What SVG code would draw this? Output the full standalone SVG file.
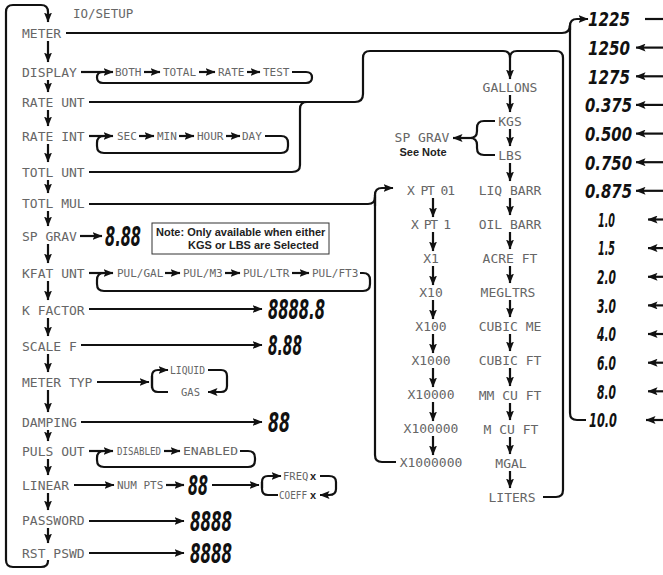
<svg xmlns="http://www.w3.org/2000/svg" width="663" height="575" viewBox="0 0 663 575">
<defs>
<marker id="ah" viewBox="0 0 10 8" refX="9.5" refY="4" markerWidth="10" markerHeight="8" markerUnits="userSpaceOnUse" orient="auto"><path d="M0,0 L10,4 L0,8 L2,4 z" fill="#111"/></marker>
</defs>
<style>
.ln{fill:none;stroke:#111;stroke-width:2.2;stroke-linejoin:round;stroke-linecap:butt}
.ar{marker-end:url(#ah)}
.lcd{font-family:"DejaVu Sans Mono","Liberation Mono",monospace;font-size:13px;fill:#666}
.sm{font-size:11px}
.xs{font-size:10.5px}
.big{font-family:"DejaVu Sans Condensed","DejaVu Sans",sans-serif;font-weight:bold;font-style:italic;font-size:27px;fill:#111}
.num{font-family:"DejaVu Sans Condensed","DejaVu Sans",sans-serif;font-weight:bold;font-style:italic;font-size:20px;fill:#111}
.note{font-family:"Liberation Sans",Arial,sans-serif;font-weight:bold;font-size:11px;fill:#222}
.bx{fill:#fff;stroke:#333;stroke-width:1}
.mid{text-anchor:middle}
</style>
<rect width="663" height="575" fill="#fff"/>

<g id="connectors">
<path class="ln ar" d="M48,560 V561 Q48,567 41,567 H13 Q6,567 6,560 V12 Q6,5 13,5 H41 Q48,5 48,12 V22"/>
<path class="ln ar" d="M48,41 V62"/>
<path class="ln ar" d="M48,80 V92"/>
<path class="ln ar" d="M48,110 V126"/>
<path class="ln ar" d="M48,144 V162"/>
<path class="ln ar" d="M48,180 V193"/>
<path class="ln ar" d="M48,211 V226"/>
<path class="ln ar" d="M48,244 V263"/>
<path class="ln ar" d="M48,281 V300"/>
<path class="ln ar" d="M48,318 V336"/>
<path class="ln ar" d="M48,354 V372"/>
<path class="ln ar" d="M48,390 V412"/>
<path class="ln ar" d="M48,430 V441"/>
<path class="ln ar" d="M48,459 V475"/>
<path class="ln ar" d="M48,493 V510"/>
<path class="ln ar" d="M48,528 V543"/>

<path class="ln" d="M66,33 H562 Q570,33 570,25"/>
<path class="ln ar" d="M570,30 V26 Q570,19 577,19 H588"/>
<path class="ln" d="M570,26 V413 Q570,420 577,420 H586"/>
<path class="ln" d="M645,19 H663"/>
<path class="ln ar" d="M663,47.6 H636"/>
<path class="ln ar" d="M663,76.3 H636"/>
<path class="ln ar" d="M663,104.9 H636"/>
<path class="ln ar" d="M663,133.6 H636"/>
<path class="ln ar" d="M663,162.2 H636"/>
<path class="ln ar" d="M663,190.8 H636"/>
<path class="ln ar" d="M663,219.5 H648"/>
<path class="ln ar" d="M663,248.1 H648"/>
<path class="ln ar" d="M663,276.8 H648"/>
<path class="ln ar" d="M663,305.4 H648"/>
<path class="ln ar" d="M663,334 H648"/>
<path class="ln ar" d="M663,362.7 H648"/>
<path class="ln ar" d="M663,391.3 H648"/>
<path class="ln ar" d="M663,420 H646"/>

<path class="ln ar" d="M81,72 H113"/>
<path class="ln ar" d="M144,72 H160"/>
<path class="ln ar" d="M199,72 H215"/>
<path class="ln ar" d="M247,72 H260"/>
<path class="ln" d="M292,72 H306 Q312,72 312,77.5 Q312,83 306,83 H103 Q97,83 97,77.5 Q97,72 103,72"/>

<path class="ln ar" d="M89,102 H355 Q363,102 363,94 V58 Q363,51 370,51 H503 Q510,51 510,58 V79"/>
<path class="ln" d="M89,172 H292 Q300,172 300,165 V109 Q300,102 307,102"/>
<path class="ln" d="M543,497 H556 Q563,497 563,490 V58 Q563,51 556,51 H517 Q510,51 510,58"/>

<path class="ln ar" d="M89,136 H113"/>
<path class="ln ar" d="M139,136 H154"/>
<path class="ln ar" d="M179,136 H194"/>
<path class="ln ar" d="M226,136 H240"/>
<path class="ln" d="M265,136 H281 Q288,136 288,143 V146 Q288,153 281,153 H104 Q97,153 97,146 V143 Q97,136 104,136"/>

<path class="ln" d="M89,204 H368 Q375,204 375,197"/>
<path class="ln ar" d="M375,206 V195 Q375,188 382,188 H393"/>
<path class="ln" d="M375,195 V455 Q375,462 382,462 H396"/>

<path class="ln ar" d="M80,236 H102"/>

<path class="ln ar" d="M89,273 H113"/>
<path class="ln ar" d="M165,273 H180"/>
<path class="ln ar" d="M225,273 H240"/>
<path class="ln ar" d="M292,273 H309"/>
<path class="ln" d="M360,273 H363 Q370,273 370,280 V284 Q370,291 363,291 H104 Q97,291 97,284 V280 Q97,273 104,273"/>

<path class="ln ar" d="M89,309 H262"/>
<path class="ln ar" d="M81,345 H262"/>

<path class="ln ar" d="M97,382 H149"/>
<path class="ln ar" d="M152,388 V376 Q152,370 158,370 H168"/>
<path class="ln" d="M152,376 V386 Q152,392 158,392 H168"/>
<path class="ln ar" d="M208,370 H221 Q227,370 227,376 V386 Q227,392 221,392 H208"/>

<path class="ln ar" d="M81,422 H262"/>

<path class="ln ar" d="M89,451 H113"/>
<path class="ln ar" d="M164,451 H180"/>
<path class="ln" d="M240,451 H248 Q255,451 255,458 V460 Q255,467 248,467 H104 Q97,467 97,460 V458 Q97,451 104,451"/>

<path class="ln ar" d="M74,485 H114"/>
<path class="ln ar" d="M166,485 H184"/>
<path class="ln ar" d="M212,485 H259"/>
<path class="ln ar" d="M262,488 V482 Q262,476 268,476 H281"/>
<path class="ln" d="M262,482 V489 Q262,495 268,495 H278"/>
<path class="ln ar" d="M320,476 H329 Q336,476 336,482 V489 Q336,495 329,495 H320"/>

<path class="ln ar" d="M89,521 H184"/>
<path class="ln ar" d="M89,553 H184"/>

<path class="ln ar" d="M433,198 V217"/>
<path class="ln ar" d="M433,232 V251"/>
<path class="ln ar" d="M433,266 V285"/>
<path class="ln ar" d="M433,300 V319"/>
<path class="ln ar" d="M433,334 V353"/>
<path class="ln ar" d="M433,368 V387"/>
<path class="ln ar" d="M433,402 V421"/>
<path class="ln ar" d="M433,436 V455"/>

<path class="ln ar" d="M510,95 V112"/>
<path class="ln ar" d="M510,129 V146"/>
<path class="ln ar" d="M510,163 V181"/>
<path class="ln ar" d="M510,198 V215"/>
<path class="ln ar" d="M510,232 V249"/>
<path class="ln ar" d="M510,266 V283"/>
<path class="ln ar" d="M510,300 V317"/>
<path class="ln ar" d="M510,334 V351"/>
<path class="ln ar" d="M510,368 V386"/>
<path class="ln ar" d="M510,403 V420"/>
<path class="ln ar" d="M510,437 V454"/>
<path class="ln ar" d="M510,471 V488"/>

<path class="ln" d="M495,121 H484 Q477,121 477,128 V131 Q477,138 470,138 Q477,138 477,145 V148 Q477,155 484,155 H495"/>
<path class="ln ar" d="M470,138 H453"/>
</g>

<g id="title"><text class="lcd" x="73" y="17.5" style="font-size:12.5px">IO/SETUP</text></g>

<g id="menu">
<g id="n-meter"><text class="lcd" x="22" y="37.7">METER</text></g>
<g id="n-display"><text class="lcd" x="22" y="76.7">DISPLAY</text></g>
<g id="n-rateunt"><text class="lcd" x="22" y="106.7">RATE UNT</text></g>
<g id="n-rateint"><text class="lcd" x="22" y="140.7">RATE INT</text></g>
<g id="n-totlunt"><text class="lcd" x="22" y="176.7">TOTL UNT</text></g>
<g id="n-totlmul"><text class="lcd" x="22" y="207.7">TOTL MUL</text></g>
<g id="n-spgrav"><text class="lcd" x="22" y="240.7">SP GRAV</text></g>
<g id="n-kfatunt"><text class="lcd" x="22" y="277.7">KFAT UNT</text></g>
<g id="n-kfactor"><text class="lcd" x="22" y="314.7">K FACTOR</text></g>
<g id="n-scalef"><text class="lcd" x="22" y="350.7">SCALE F</text></g>
<g id="n-metertyp"><text class="lcd" x="22" y="386.7">METER TYP</text></g>
<g id="n-damping"><text class="lcd" x="22" y="426.7">DAMPING</text></g>
<g id="n-pulsout"><text class="lcd" x="22" y="455.7">PULS OUT</text></g>
<g id="n-linear"><text class="lcd" x="22" y="489.7">LINEAR</text></g>
<g id="n-password"><text class="lcd" x="22" y="524.7">PASSWORD</text></g>
<g id="n-rstpswd"><text class="lcd" x="22" y="557.7">RST PSWD</text></g>
</g>

<g id="display-opts">
<g id="d-both"><text class="lcd sm" x="115" y="76">BOTH</text></g>
<g id="d-total"><text class="lcd sm" x="163" y="76">TOTAL</text></g>
<g id="d-rate"><text class="lcd sm" x="218" y="76">RATE</text></g>
<g id="d-test"><text class="lcd sm" x="263" y="76">TEST</text></g>
</g>

<g id="rateint-opts">
<g id="r-sec"><text class="lcd sm" x="117" y="140">SEC</text></g>
<g id="r-min"><text class="lcd sm" x="157" y="140">MIN</text></g>
<g id="r-hour"><text class="lcd sm" x="197" y="140">HOUR</text></g>
<g id="r-day"><text class="lcd sm" x="242" y="140">DAY</text></g>
</g>

<g id="kfat-opts">
<g id="k-gal"><text class="lcd sm" x="117" y="277">PUL/GAL</text></g>
<g id="k-m3"><text class="lcd sm" x="183" y="277">PUL/M3</text></g>
<g id="k-ltr"><text class="lcd sm" x="243" y="277">PUL/LTR</text></g>
<g id="k-ft3"><text class="lcd sm" x="312" y="277">PUL/FT3</text></g>
</g>

<g id="spgrav-val"><text class="big" x="105" y="246" textLength="36" lengthAdjust="spacingAndGlyphs">8.88</text></g>
<g id="note">
<rect class="bx" x="152" y="223" width="177" height="31"/>
<text class="note" x="156" y="236">Note: Only available when either</text>
<text class="note" x="188" y="249">KGS or LBS are Selected</text>
</g>
<g id="kfactor-val"><text class="big" x="268" y="319" textLength="57" lengthAdjust="spacingAndGlyphs">8888.8</text></g>
<g id="scalef-val"><text class="big" x="268" y="355" textLength="34" lengthAdjust="spacingAndGlyphs">8.88</text></g>

<g id="metertyp-opts">
<g id="m-liquid"><text class="lcd xs" x="170" y="374" textLength="35" lengthAdjust="spacingAndGlyphs">LIQUID</text></g>
<g id="m-gas"><text class="lcd xs" x="181" y="396">GAS</text></g>
</g>

<g id="damping-val"><text class="big" x="268" y="432" textLength="22" lengthAdjust="spacingAndGlyphs">88</text></g>

<g id="puls-opts">
<g id="p-disabled"><text class="lcd sm" x="117" y="455" textLength="44" lengthAdjust="spacingAndGlyphs">DISABLED</text></g>
<g id="p-enabled"><text class="lcd sm" x="183" y="455" textLength="55" lengthAdjust="spacingAndGlyphs">ENABLED</text></g>
</g>

<g id="linear-opts">
<g id="l-numpts"><text class="lcd sm" x="117" y="489">NUM PTS</text></g>
<g id="l-val"><text class="big" x="188" y="495" textLength="20" lengthAdjust="spacingAndGlyphs">88</text></g>
<g id="l-freq"><text class="lcd xs" x="283" y="480">FREQ</text><text class="note" x="310" y="480">x</text></g>
<g id="l-coeff"><text class="lcd xs" x="279" y="499" textLength="28" lengthAdjust="spacingAndGlyphs">COEFF</text><text class="note" x="310" y="499">x</text></g>
</g>

<g id="password-val"><text class="big" x="190" y="531" textLength="42" lengthAdjust="spacingAndGlyphs">8888</text></g>
<g id="rstpswd-val"><text class="big" x="190" y="563" textLength="42" lengthAdjust="spacingAndGlyphs">8888</text></g>

<g id="multipliers">
<g id="x-pt01"><text class="lcd mid" x="431" y="194.7" textLength="48" lengthAdjust="spacing">X PT 01</text></g>
<g id="x-pt1"><text class="lcd mid" x="431" y="228.7" textLength="40" lengthAdjust="spacing">X PT 1</text></g>
<g id="x-1"><text class="lcd mid" x="431" y="262.7">X1</text></g>
<g id="x-10"><text class="lcd mid" x="431" y="296.7">X10</text></g>
<g id="x-100"><text class="lcd mid" x="431" y="330.7">X100</text></g>
<g id="x-1000"><text class="lcd mid" x="431" y="364.7">X1000</text></g>
<g id="x-10000"><text class="lcd mid" x="431" y="398.7">X10000</text></g>
<g id="x-100000"><text class="lcd mid" x="431" y="432.7">X100000</text></g>
<g id="x-1000000"><text class="lcd mid" x="431" y="466.7">X1000000</text></g>
</g>

<g id="sp-note">
<text class="lcd mid" x="422" y="141.7">SP GRAV</text>
<text class="note mid" x="423" y="156">See Note</text>
</g>

<g id="units">
<g id="u-gallons"><text class="lcd mid" x="510" y="91.7">GALLONS</text></g>
<g id="u-kgs"><text class="lcd mid" x="510" y="125.7">KGS</text></g>
<g id="u-lbs"><text class="lcd mid" x="510" y="159.7">LBS</text></g>
<g id="u-liqbarr"><text class="lcd mid" x="510" y="194.7">LIQ BARR</text></g>
<g id="u-oilbarr"><text class="lcd mid" x="510" y="228.7">OIL BARR</text></g>
<g id="u-acreft"><text class="lcd mid" x="510" y="262.7">ACRE FT</text></g>
<g id="u-megltrs"><text class="lcd mid" x="508" y="296.7">MEGLTRS</text></g>
<g id="u-cubicme"><text class="lcd mid" x="510" y="330.7">CUBIC ME</text></g>
<g id="u-cubicft"><text class="lcd mid" x="510" y="364.7">CUBIC FT</text></g>
<g id="u-mmcuft"><text class="lcd mid" x="510" y="399.7">MM CU FT</text></g>
<g id="u-mcuft"><text class="lcd mid" x="511" y="433.7">M CU FT</text></g>
<g id="u-mgal"><text class="lcd mid" x="511" y="467.7">MGAL</text></g>
<g id="u-liters"><text class="lcd mid" x="512" y="501.7">LITERS</text></g>
</g>

<g id="sizes">
<g id="s-1225"><text class="num" x="588" y="26.3" textLength="42" lengthAdjust="spacingAndGlyphs">1225</text></g>
<g id="s-1250"><text class="num" x="588" y="54.9" textLength="42" lengthAdjust="spacingAndGlyphs">1250</text></g>
<g id="s-1275"><text class="num" x="588" y="83.6" textLength="42" lengthAdjust="spacingAndGlyphs">1275</text></g>
<g id="s-0375"><text class="num" x="585" y="112.2" textLength="47" lengthAdjust="spacingAndGlyphs">0.375</text></g>
<g id="s-0500"><text class="num" x="585" y="140.9" textLength="47" lengthAdjust="spacingAndGlyphs">0.500</text></g>
<g id="s-0750"><text class="num" x="585" y="169.5" textLength="47" lengthAdjust="spacingAndGlyphs">0.750</text></g>
<g id="s-0875"><text class="num" x="585" y="198.1" textLength="47" lengthAdjust="spacingAndGlyphs">0.875</text></g>
<g id="s-10"><text class="num" x="598" y="226.8" textLength="17" lengthAdjust="spacingAndGlyphs">1.0</text></g>
<g id="s-15"><text class="num" x="598" y="255.4" textLength="17" lengthAdjust="spacingAndGlyphs">1.5</text></g>
<g id="s-20"><text class="num" x="597" y="284.1" textLength="19" lengthAdjust="spacingAndGlyphs">2.0</text></g>
<g id="s-30"><text class="num" x="597" y="312.7" textLength="19" lengthAdjust="spacingAndGlyphs">3.0</text></g>
<g id="s-40"><text class="num" x="597" y="341.3" textLength="19" lengthAdjust="spacingAndGlyphs">4.0</text></g>
<g id="s-60"><text class="num" x="597" y="370" textLength="19" lengthAdjust="spacingAndGlyphs">6.0</text></g>
<g id="s-80"><text class="num" x="597" y="398.6" textLength="19" lengthAdjust="spacingAndGlyphs">8.0</text></g>
<g id="s-100"><text class="num" x="589" y="427.3" textLength="28" lengthAdjust="spacingAndGlyphs">10.0</text></g>
</g>
</svg>
